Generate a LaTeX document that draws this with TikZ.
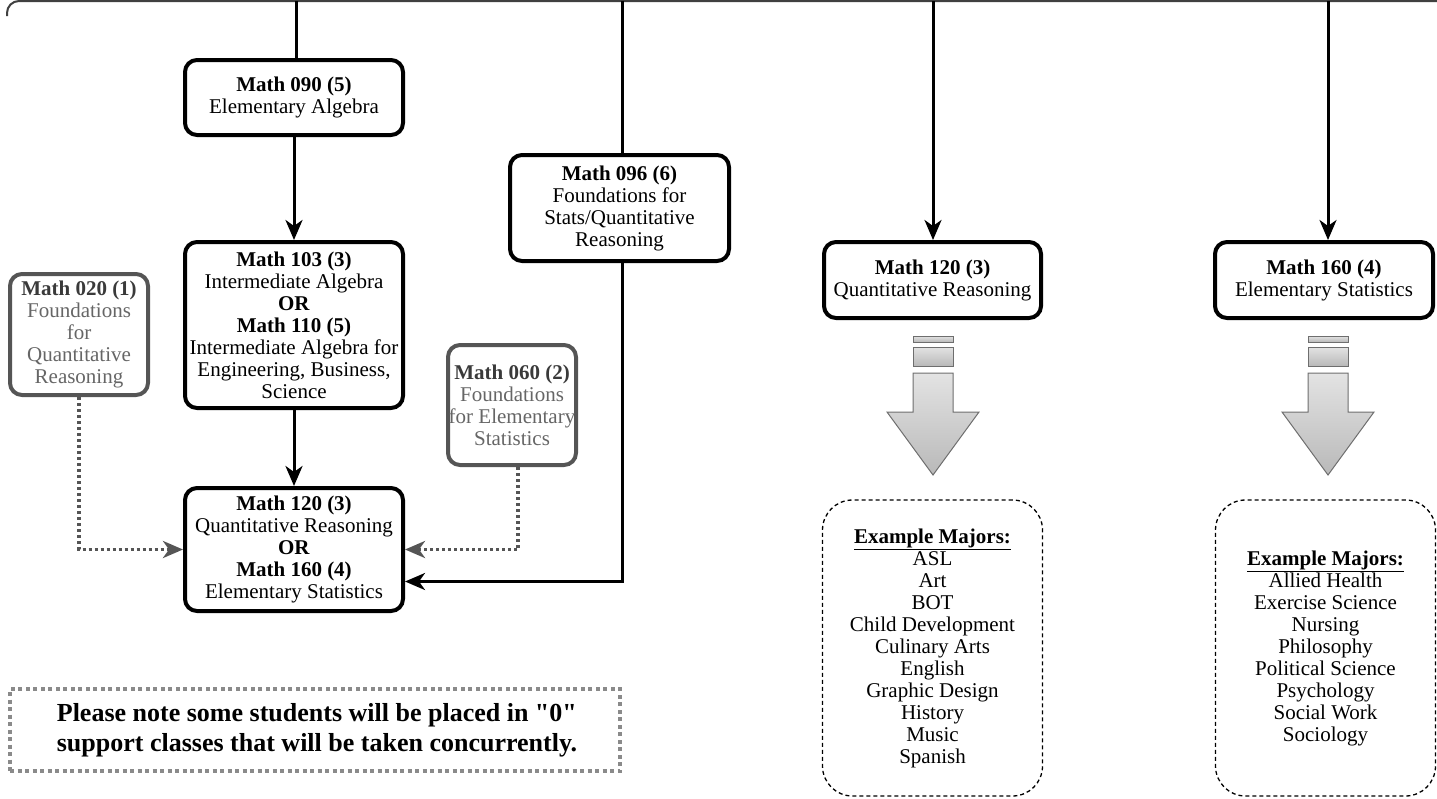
\documentclass[tikz,border=0pt]{standalone}
\usepackage{fontspec}
\setmainfont{Liberation Serif}[Ligatures=TeXOff]
\usetikzlibrary{arrows.meta}
\definecolor{boxgray}{HTML}{555555}
\definecolor{titlegray}{HTML}{3A3A3A}
\definecolor{bodygray}{HTML}{666666}
\definecolor{notegray}{HTML}{8A8A8A}
\definecolor{blockedge}{HTML}{6E6E6E}
\tikzset{
  txt/.style={font=\fontsize{21}{22}\selectfont, align=center, inner sep=0pt},
  course/.style={txt, draw=black, line width=4pt, rounded corners=12pt, fill=white},
  support/.style={txt, draw=boxgray, line width=4pt, rounded corners=12pt, fill=white, text=bodygray},
  majors/.style={txt, draw=black, line width=1.3pt, dash pattern=on 4pt off 3pt, rounded corners=30pt},
  notebox/.style={draw=notegray, line width=4.5pt, dash pattern=on 4pt off 3.5pt, align=left, inner sep=0pt,
    font=\bfseries\fontsize{26}{30}\selectfont},
  arr/.style={draw=black, line width=3pt, -{Stealth[length=20pt,width=17pt,inset=6pt]}},
  link/.style={draw=black, line width=3pt},
  dotarr/.style={draw=boxgray, line width=3.5pt, dash pattern=on 3pt off 3pt,
    -{Stealth[length=20pt,width=17pt,inset=6pt]}},
  blockpart/.style={draw=blockedge, line width=1pt, top color=gray!22, bottom color=gray!55},
}
\begin{document}
\begin{tikzpicture}[x=1pt,y=-1pt]
\useasboundingbox (0,0) rectangle (1437,798);

% top edge of the cut-off box above
\draw[draw=black!75, line width=2pt, rounded corners=12pt] (7,16) -- (7,1) -- (1440,1);

% free top ends
\coordinate (t1) at (296,1);
\coordinate (t2) at (622,1);
\coordinate (t3) at (933,1);
\coordinate (t4) at (1328,1);

% left column
\node[course, minimum width=218pt, minimum height=75pt] (m090) at (294,97.5)
  {\textbf{Math 090 (5)}\\Elementary Algebra};
\node[course, minimum width=218pt, minimum height=166pt] (m103) at (294,325)
  {\textbf{Math 103 (3)}\\Intermediate Algebra\\\textbf{OR}\\\textbf{Math 110 (5)}\\Intermediate Algebra for\\Engineering, Business,\\Science};
\node[course, minimum width=218pt, minimum height=123pt] (mA) at (294,549.5)
  {\textbf{Math 120 (3)}\\Quantitative Reasoning\\\textbf{OR}\\\textbf{Math 160 (4)}\\Elementary Statistics};
\node[support, minimum width=138pt, minimum height=121pt] (m020) at (79,334.5)
  {\textcolor{titlegray}{\textbf{Math 020 (1)}}\\Foundations\\for\\Quantitative\\Reasoning};
\node[support, minimum width=128pt, minimum height=120pt] (m060) at (512,405)
  {\textcolor{titlegray}{\textbf{Math 060 (2)}}\\Foundations\\for Elementary\\Statistics};
\node[course, minimum width=219pt, minimum height=106pt] (m096) at (619.5,208)
  {\textbf{Math 096 (6)}\\Foundations for\\Stats/Quantitative\\Reasoning};

% right columns
\node[course, minimum width=217pt, minimum height=76pt] (m120) at (932.5,280)
  {\textbf{Math 120 (3)}\\Quantitative Reasoning};
\node[course, minimum width=218pt, minimum height=76pt] (m160) at (1324,280)
  {\textbf{Math 160 (4)}\\Elementary Statistics};

\node[majors, minimum width=220pt, minimum height=296pt] (maj1) at (932.5,648)
  {\textbf{\underline{Example Majors:}}\\ASL\\Art\\BOT\\Child Development\\Culinary Arts\\English\\Graphic Design\\History\\Music\\Spanish};
\node[majors, minimum width=220pt, minimum height=296pt] (maj2) at (1325.5,648)
  {\textbf{\underline{Example Majors:}}\\Allied Health\\Exercise Science\\Nursing\\Philosophy\\Political Science\\Psychology\\Social Work\\Sociology};

% note
\node[notebox, minimum width=610pt, minimum height=82pt] (note) at (315,730)
  {\hspace*{4pt}Please note some students will be placed in "0"\\\hspace*{4pt}support classes that will be taken concurrently.};

% connectors
\draw[link] (t1) -- (m090.north -| t1);
\draw[arr] (m090) -- (m103);
\draw[arr] (m103) -- (mA);
\draw[link] (t2) -- (m096.north -| t2);
\draw[arr] (m096.south -| t2) |- ([yshift=-32pt]mA.east);
\draw[dotarr] (m020.south) |- (mA.west);
\draw[dotarr] ([xshift=6pt]m060.south) |- (mA.east);
\draw[arr] (t3) -- (m120.north -| t3);
\draw[arr] (t4) -- (m160.north -| t4);

% block arrows
\foreach \cx in {933,1328}{
  \path[blockpart] (\cx-20,336) rectangle (\cx+20,342);
  \path[blockpart] (\cx-20,347) rectangle (\cx+20,366);
  \path[blockpart] (\cx-20,373) -- (\cx+20,373) -- (\cx+20,412) -- (\cx+46,412)
     -- (\cx,475) -- (\cx-46,412) -- (\cx-20,412) -- cycle;
}
\end{tikzpicture}
\end{document}
